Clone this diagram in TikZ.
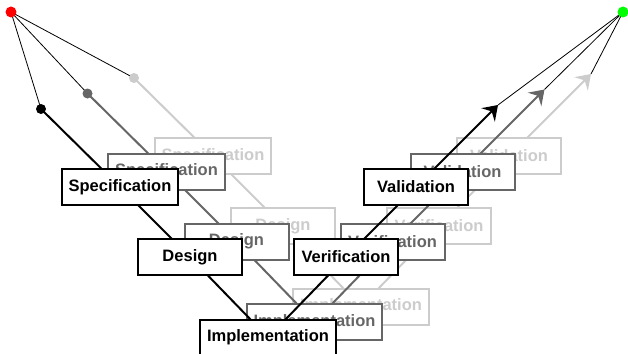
\documentclass[tikz,border=0pt]{standalone}
\usepackage{fontspec}
\setmainfont{Liberation Sans}
\usetikzlibrary{arrows.meta}

\pgfdeclarelayer{line3}\pgfdeclarelayer{box3}
\pgfdeclarelayer{line2}\pgfdeclarelayer{box2}
\pgfdeclarelayer{line1}\pgfdeclarelayer{box1}
\pgfsetlayers{line3,box3,line2,box2,line1,box1,main}

\tikzset{
  phase/.style={draw=#1, text=#1, fill=white, line width=2pt,
    minimum width=104pt, minimum height=36pt, inner xsep=7pt,
    font=\bfseries\fontsize{16.5}{18}\selectfont},
  vline/.style={draw=#1, line width=2pt},
  thinline/.style={draw, line width=0.8pt},
}

\begin{document}
\begin{tikzpicture}[x=1pt,y=-1pt]
  \useasboundingbox (0,0) rectangle (628,353);
  \coordinate(start)at(11,12);
  \coordinate(goal)at(623,12);

  % three shifted copies of the V, back to front
  \foreach \k/\col/\dx/\dy in {3/black!20/93/31, 2/black!60/46.5/15.5, 1/black/0/0}{
    \begin{pgfonlayer}{box\k}
      \node[phase=\col](spec\k)at(120+\dx,187-\dy){Specification};
      \node[phase=\col](design\k)at(190+\dx,257-\dy){Design};
      \node[phase=\col](impl\k)at(268+\dx,337.5-\dy){Implementation};
      \node[phase=\col](verif\k)at(346+\dx,257-\dy){Verification};
      \node[phase=\col](valid\k)at(416+\dx,187-\dy){Validation};
    \end{pgfonlayer}
    \begin{pgfonlayer}{line\k}
      \coordinate(dot\k)at(41+\dx,109-\dy);
      \coordinate(tip\k)at(498+\dx,105-\dy);
      \path[thinline](start)to(dot\k);
      \path[thinline](tip\k)to(goal);
      \path[vline=\col](dot\k)to(spec\k.center)to(design\k.center)to(impl\k.center)
        to(verif\k.center)to(valid\k.center);
      \path[vline=\col, -{Stealth[length=14pt,width=19pt,inset=5pt]}](valid\k.center)to(tip\k);
      \fill[\col](dot\k)circle(5pt);
    \end{pgfonlayer}
  }

  % start and end points
  \fill[red](start)circle(5.5pt);
  \fill[green](goal)circle(5.5pt);
\end{tikzpicture}
\end{document}
